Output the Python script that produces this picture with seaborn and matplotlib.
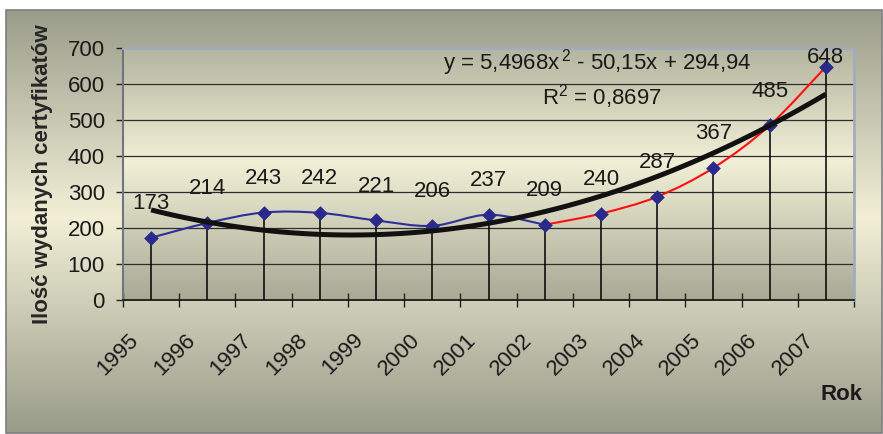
import matplotlib
matplotlib.use("Agg")
import matplotlib.pyplot as plt
import numpy as np
import seaborn as sns
from matplotlib.colors import LinearSegmentedColormap
from matplotlib.patches import PathPatch, Rectangle
from matplotlib.path import Path
from matplotlib.transforms import ScaledTranslation

# --- data ------------------------------------------------------------------
years = ["1995", "1996", "1997", "1998", "1999", "2000", "2001",
         "2002", "2003", "2004", "2005", "2006", "2007"]
counts = [173, 214, 243, 242, 221, 206, 237, 209, 240, 287, 367, 485, 648]
blue_counts = counts[:8]    # 1995-2002, blue series
red_counts = counts[7:]     # 2002-2007, red series
y_ticks = [0, 100, 200, 300, 400, 500, 600, 700]
equation = "y = 5,4968x$^{\\,2}$ - 50,15x + 294,94"
r2_text = "R$^{2}$ = 0,8697"
y_title = "Ilość wydanych certyfikatów"
x_title = "Rok"

sns.set_theme(style="white")
plt.rcParams["font.family"] = ["Liberation Sans", "DejaVu Sans"]
plt.rcParams["text.color"] = "#1a1a1a"
plt.rcParams["mathtext.fontset"] = "custom"
plt.rcParams["mathtext.rm"] = "Liberation Sans"
plt.rcParams["mathtext.it"] = "Liberation Sans"
plt.rcParams["mathtext.default"] = "rm"

W, H = 883, 434


def smooth_path(xs, ys):
    """Excel-like smoothed line: cubic Bezier through every point."""
    pts = np.column_stack([xs, ys]).astype(float)
    ext = np.vstack([pts[0], pts, pts[-1]])
    verts, codes = [pts[0]], [Path.MOVETO]
    for i in range(len(pts) - 1):
        p0, p1, p2, p3 = ext[i], ext[i + 1], ext[i + 2], ext[i + 3]
        verts += [p1 + (p2 - p0) / 6, p2 - (p3 - p1) / 6, p2]
        codes += [Path.CURVE4] * 3
    return Path(verts, codes)


fig = plt.figure(figsize=(W / 100, H / 100), dpi=100)
fig.patch.set_facecolor("white")

# figure background: vertical olive -> cream -> olive gradient in a frame
bg = fig.add_axes([0, 0, 1, 1], zorder=-10)
bg.set_xlim(0, W)
bg.set_ylim(H, 0)
bg.axis("off")
frame_cmap = LinearSegmentedColormap.from_list(
    "frame", [(0, "#9a9d8b"), (0.49, "#f2efd6"), (1, "#999c8a")])
grad = np.linspace(0, 1, 256).reshape(-1, 1)
bg.imshow(grad, cmap=frame_cmap, extent=(6, W - 1, H - 1, 10), aspect="auto")
bg.add_patch(Rectangle((6, 10), W - 7, H - 11, fill=False,
                       ec="#7d7d7d", lw=1.2))

# plot area
left, right, top, bottom = 123, 854, 48, 300
ax = fig.add_axes([left / W, 1 - bottom / H, (right - left) / W,
                   (bottom - top) / H])
ax.set_facecolor("none")
plot_cmap = LinearSegmentedColormap.from_list(
    "plot", [(0, "#b4b5a0"), (0.45, "#f1efd6"), (1, "#a8aa96")])
ax.imshow(grad, cmap=plot_cmap, extent=(-0.5, 12.5, 0, 700),
          aspect="auto", zorder=0)

x = np.arange(len(years))
xb = x[:8]
xr = x[7:]

# drop lines from each point to the axis
ax.vlines(x, 0, counts, color="black", lw=1.1, zorder=3)

# smoothed series lines
ax.add_patch(PathPatch(smooth_path(xb, blue_counts), fill=False,
                       ec="#2e2e9c", lw=1.5, zorder=4))
ax.add_patch(PathPatch(smooth_path(xr, red_counts), fill=False,
                       ec="#ff1010", lw=1.5, zorder=4))

# markers
sns.scatterplot(x=x, y=counts, marker="D", s=56, color="#2a2a8c",
                edgecolor="#2a2a8c", linewidth=0, zorder=6, ax=ax,
                legend=False)

# polynomial (order 2) trend line
sns.regplot(x=x, y=counts, order=2, ci=None, scatter=False, truncate=True,
            ax=ax, line_kws=dict(color="#111111", lw=3.6, zorder=8,
                                 solid_capstyle="butt"))

# value labels
label_dy = [24.5] * 12 + [6.5]
for xi, v, dy in zip(x, counts, label_dy):
    ax.annotate(str(v), (xi, v), xytext=(0, dy), textcoords="offset points",
                ha="center", va="center", fontsize=16, color="#1a1a1a",
                zorder=9)

ax.text(0.4378, 0.9405, equation, transform=ax.transAxes, fontsize=16,
        ha="left", va="center", zorder=9)
ax.text(0.573, 0.8056, r2_text, transform=ax.transAxes, fontsize=16,
        ha="left", va="center", zorder=9)

ax.set_xlim(-0.5, 12.5)
ax.set_ylim(0, 700)
ax.set_xlabel("")
ax.set_ylabel("")

# y axis
ax.set_yticks(y_ticks)
ax.yaxis.grid(True, color="#2e2e2e", lw=0.9)
ax.xaxis.grid(False)
ax.set_axisbelow(True)
ax.tick_params(axis="y", direction="out", length=5, width=1,
               color="#222222", pad=8, labelsize=16, labelcolor="#1a1a1a",
               left=True)

# x axis: marks at category boundaries, labels at category centres
ax.set_xticks(np.arange(-0.5, 13, 1), minor=True)
ax.tick_params(axis="x", which="minor", direction="inout", length=10,
               width=1, color="#222222", bottom=True)
ax.tick_params(axis="x", which="major", length=0, pad=0, labelsize=16,
               labelcolor="#1a1a1a")
ax.set_xticks(x, years)
shift = ScaledTranslation(-11.5 / 100, -40.6 / 100, fig.dpi_scale_trans)
for lbl in ax.get_xticklabels():
    lbl.set_rotation(45)
    lbl.set_ha("right")
    lbl.set_va("baseline")
    lbl.set_rotation_mode("anchor")
    lbl.set_transform(lbl.get_transform() + shift)

for side in ["top", "right"]:
    ax.spines[side].set_color("#a2acbd")
    ax.spines[side].set_linewidth(2)
ax.spines["left"].set_color("#6e7480")
ax.spines["left"].set_linewidth(1.5)
ax.spines["bottom"].set_color("#1a1a1a")
ax.spines["bottom"].set_linewidth(1.3)

ax.set_ylabel(y_title, fontsize=16, fontweight="bold")
ax.yaxis.set_label_coords((43 - left) / (right - left), 0.5)
ax.yaxis.label.set_va("center")

fig.text(863 / W, 1 - 395 / H, x_title, ha="right", va="center",
         fontsize=16, fontweight="bold", color="#1a1a1a")

fig.savefig("out.png", dpi=100)
